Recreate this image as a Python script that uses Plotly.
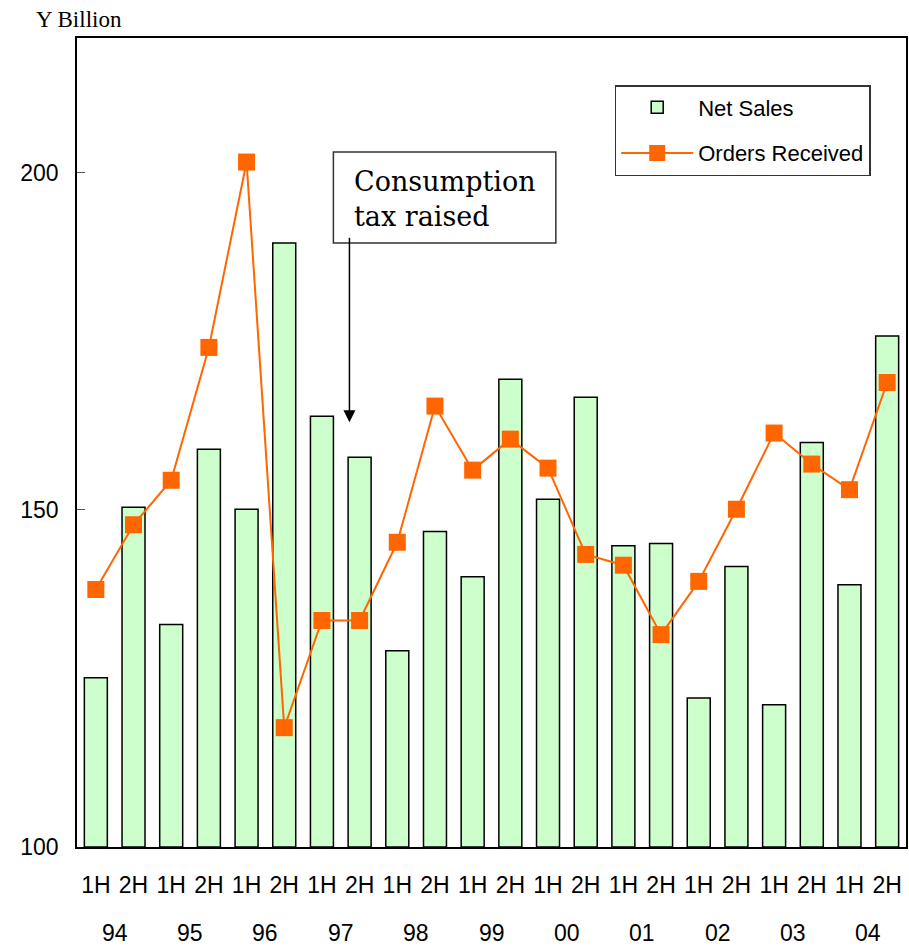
import plotly.graph_objects as go

halves = ["1H", "2H"] * 11
years = ["94", "95", "96", "97", "98", "99", "00", "01", "02", "03", "04"]
net_sales = [125.1, 150.4, 133.0, 159.0, 150.1, 189.6, 163.9, 157.8, 129.1, 146.8, 140.1,
             169.4, 151.6, 166.7, 144.7, 145.0, 122.1, 141.6, 121.1, 160.0, 138.9, 175.8]
orders = [138.2, 147.8, 154.4, 174.1, 201.6, 117.7, 133.6, 133.6, 145.2, 165.4, 155.9,
          160.5, 156.2, 143.4, 141.8, 131.5, 139.4, 150.1, 161.4, 156.8, 153.0, 168.9]
y_ticks = [100, 150, 200]

x = list(range(len(halves)))

fig = go.Figure()
fig.add_trace(go.Bar(
    x=x, y=[v - 100 for v in net_sales], base=100, name="Net Sales",
    marker=dict(color="#CCFFCC", line=dict(color="black", width=1.5)),
    legendgroup="a",
))
fig.add_trace(go.Scatter(
    x=x, y=orders, name="Orders Received", mode="lines+markers",
    line=dict(color="#FF6600", width=2),
    marker=dict(symbol="square", size=17, color="#FF6600"),
    legendgroup="b",
))

for i, yr in enumerate(years):
    fig.add_annotation(x=2 * i + 0.5, y=-100 / 809, xref="x", yref="paper", yanchor="bottom",
                       text=yr, showarrow=False, borderpad=0,
                       font=dict(family="Liberation Sans", size=23, color="black"))

fig.add_annotation(x=0, y=1.0, xref="paper", yref="paper", xanchor="left", yanchor="bottom",
                   xshift=-43, yshift=4, text="Y Billion", showarrow=False,
                   font=dict(family="Liberation Serif", size=23, color="black"))

# Annotation box
fig.add_shape(type="rect", xref="paper", yref="paper",
              x0=(334 - 77) / 831, x1=(557 - 77) / 831,
              y0=(847 - 243) / 809, y1=(847 - 152) / 809,
              line=dict(color="#333333", width=1.5), fillcolor="white")
fig.add_annotation(xref="paper", yref="paper", x=(353 - 77) / 831, y=(847 - 199) / 809,
                   xanchor="left", yanchor="middle", align="left", showarrow=False,
                   text="Consumption<br>tax raised",
                   font=dict(family="DejaVu Serif", size=27, color="black"))
fig.add_annotation(x=6.73, y=163.0, xref="x", yref="y", text="", showarrow=True,
                   arrowhead=2, arrowsize=1.6, arrowwidth=1.5, arrowcolor="black",
                   ax=0, ay=-186)

fig.update_layout(
    width=909, height=947,
    margin=dict(l=77, r=1, t=38, b=100),
    plot_bgcolor="white", paper_bgcolor="white",
    bargap=0.39,
    showlegend=True,
    legend=dict(x=(616 - 77) / 831, y=(847 - 85) / 809, xanchor="left", yanchor="top",
                bgcolor="white", bordercolor="#333333", borderwidth=1.5,
                font=dict(family="Liberation Sans", size=22, color="black"),
                tracegroupgap=14, traceorder="grouped", itemwidth=72),
    font=dict(family="Liberation Sans", color="black"),
)
fig.update_xaxes(tickvals=x, ticktext=halves, range=[-0.5, 21.5],
                 showline=True, linecolor="black", linewidth=1.5, mirror=True,
                 ticks="", showgrid=False, tickfont=dict(size=23, color="black"),
                 ticklabelstandoff=17)
fig.update_yaxes(range=[100, 220], tickvals=y_ticks, showline=True, linecolor="black",
                 linewidth=1.5, mirror=True, ticks="inside", ticklen=8, tickcolor="#555555",
                 showgrid=False, tickfont=dict(size=23, color="black"), zeroline=False,
                 ticklabelstandoff=12)

fig.write_html("out.html", post_script="document.body.style.margin='0px';",
               config={"displayModeBar": False})
